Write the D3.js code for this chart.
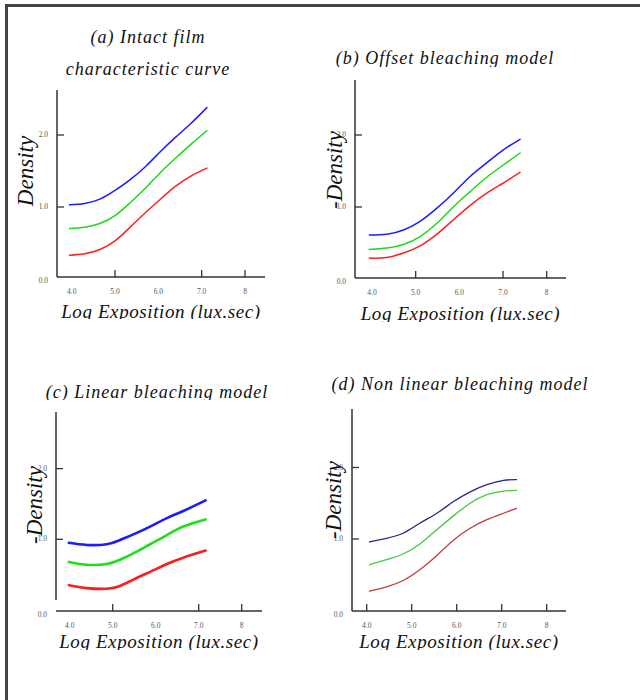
<!DOCTYPE html>
<html lang="en">
<head>
  <meta charset="UTF-8">
  <title>Film characteristic curves and bleaching models</title>
  <script src="https://d3js.org/d3.v7.min.js"></script>
  <style>
    body { margin: 0; background: #fff; }
    svg { display: block; }
    .serif { font-family: "Liberation Serif", "Times New Roman", Times, serif; font-style: italic; fill: #111; }
    .tick-label { font-family: "Liberation Serif", "Times New Roman", serif; font-size: 7.5px; fill: #555; }
    .axis-line { stroke: #333; stroke-width: 1.5px; }
  </style>
</head>
<body>
  <svg width="640" height="700"></svg>
  <script>
    // log exposure ticks and density ticks
    const xTicks = [4, 5, 6, 7, 8];
    const xTickLabels = ["4.0", "5.0", "6.0", "7.0", "8"];
    const yTicks = [0, 1, 2];
    const yTickLabels = ["0.0", "1.0", "2.0"];

    // (a) intact film
    const expA = [3.95, 4.3, 4.65, 5.0, 5.35, 5.7, 6.05, 6.4, 6.75, 7.12];
    const blueA = [1.03, 1.05, 1.11, 1.23, 1.38, 1.56, 1.77, 1.97, 2.16, 2.38];
    const greenA = [0.70, 0.72, 0.77, 0.88, 1.06, 1.26, 1.48, 1.68, 1.87, 2.06];
    const redA = [0.33, 0.35, 0.41, 0.53, 0.72, 0.92, 1.11, 1.29, 1.43, 1.54];

    // (b) offset bleaching
    const expB = [3.94, 4.34, 4.72, 5.10, 5.48, 5.86, 6.24, 6.62, 7.0, 7.39];
    const blueB = [0.61, 0.62, 0.68, 0.80, 0.98, 1.19, 1.42, 1.61, 1.79, 1.94];
    const greenB = [0.41, 0.43, 0.48, 0.59, 0.77, 1.00, 1.21, 1.41, 1.58, 1.75];
    const redB = [0.29, 0.30, 0.36, 0.46, 0.62, 0.82, 1.02, 1.19, 1.33, 1.48];

    // (c) linear bleaching
    const expC = [3.98, 4.40, 4.86, 5.17, 5.48, 5.87, 6.26, 6.64, 7.16];
    const blueC = [0.95, 0.92, 0.93, 0.99, 1.07, 1.18, 1.30, 1.40, 1.55];
    const greenC = [0.68, 0.64, 0.65, 0.71, 0.80, 0.93, 1.06, 1.18, 1.28];
    const redC = [0.35, 0.31, 0.30, 0.34, 0.43, 0.54, 0.65, 0.74, 0.84];

    // (d) non linear bleaching
    const expD = [4.06, 4.44, 4.81, 5.18, 5.56, 5.92, 6.30, 6.67, 7.04, 7.33];
    const blueD = [0.96, 1.01, 1.08, 1.22, 1.36, 1.52, 1.66, 1.76, 1.82, 1.83];
    const greenD = [0.64, 0.71, 0.79, 0.93, 1.13, 1.32, 1.50, 1.62, 1.67, 1.68];
    const redD = [0.27, 0.33, 0.42, 0.57, 0.77, 0.98, 1.15, 1.27, 1.36, 1.43];

    const panels = [
      {
        title: ["(a) Intact film", "characteristic curve"], titleX: 148, titleY: [43, 75], titleClip: null,
        yLabel: "Density", yLabelX: 33, yLabelY: 171,
        xr: [71.7, 245], yr: [279, 135], axisX: 57, axisTop: 90, axisBottom: 277, axisY: 277, axisRight: 265,
        marks: [5, 7, 8], xt: 318, xtClip: 319, lw: 1.5,
        exp: expA, series: [blueA, greenA, redA],
        colors: ["#1c1cff", "#19d919", "#ff2020"]
      },
      {
        title: ["(b) Offset bleaching model"], titleX: 445, titleY: [64], titleClip: 67,
        yLabel: "-Density", yLabelX: 342, yLabelY: 170,
        xr: [372, 546.7], yr: [279, 135], axisX: 355, axisTop: 80, axisBottom: 278, axisY: 278, axisRight: 566,
        marks: [5, 7, 8], xt: 320, xtClip: 322, lw: 1.5,
        exp: expB, series: [blueB, greenB, redB],
        colors: ["#1c1cff", "#19d919", "#ff2020"]
      },
      {
        title: ["(c) Linear bleaching model"], titleX: 157, titleY: [398], titleClip: 400,
        yLabel: "-Density", yLabelX: 42, yLabelY: 505,
        xr: [69.7, 241.7], yr: [610, 468.6], axisX: 56, axisTop: 412, axisBottom: 600, axisY: 611, axisRight: 262,
        marks: [5, 7, 8], xt: 648, xtClip: 650, lw: 2.6,
        exp: expC, series: [blueC, greenC, redC],
        colors: ["#1c1cff", "#19e019", "#ff1c1c"]
      },
      {
        title: ["(d) Non linear bleaching model"], titleX: 460, titleY: [390], titleClip: null,
        yLabel: "-Density", yLabelX: 341, yLabelY: 500,
        xr: [366.7, 546.7], yr: [610.5, 467.5], axisX: 352, axisTop: 409, axisBottom: 611, axisY: 611, axisRight: 566,
        marks: [4, 5, 6, 7, 8], xt: 648, xtClip: 650, lw: 1.3,
        exp: expD, series: [blueD, greenD, redD],
        colors: ["#26268f", "#44c844", "#c23c3c"]
      }
    ];

    const svg = d3.select("svg");

    // frame
    svg.append("line").attr("x1", 5).attr("y1", 5.5).attr("x2", 640).attr("y2", 5.5)
      .attr("stroke", "#444").attr("stroke-width", 3);
    svg.append("line").attr("x1", 6.5).attr("y1", 4).attr("x2", 6.5).attr("y2", 700)
      .attr("stroke", "#444").attr("stroke-width", 3);

    panels.forEach((p, i) => {
      const g = svg.append("g");
      const x = d3.scaleLinear().domain([4, 8]).range(p.xr);
      const y = d3.scaleLinear().domain([0, 2]).range(p.yr);

      // curves
      const line = d3.line().x(d => x(d[0])).y(d => y(d[1])).curve(d3.curveNatural);
      p.series.forEach((s, k) => {
        g.append("path")
          .datum(p.exp.map((e, j) => [e, s[j]]))
          .attr("d", line)
          .attr("fill", "none")
          .attr("stroke", p.colors[k])
          .attr("stroke-width", p.lw)
          .attr("stroke-linecap", "round");
      });

      // axis lines
      g.append("line").attr("class", "axis-line")
        .attr("x1", p.axisX).attr("x2", p.axisX).attr("y1", p.axisTop).attr("y2", p.axisBottom);
      g.append("line").attr("class", "axis-line")
        .attr("x1", p.axisX).attr("x2", p.axisRight).attr("y1", p.axisY).attr("y2", p.axisY);

      // x tick marks (inward) and labels
      g.selectAll(".xmark").data(p.marks).join("line")
        .attr("x1", d => x(d)).attr("x2", d => x(d))
        .attr("y1", p.axisY).attr("y2", p.axisY - 7)
        .attr("stroke", "#333").attr("stroke-width", 1.3);
      g.selectAll(".xlab").data(xTicks).join("text")
        .attr("class", "tick-label")
        .attr("x", d => x(d)).attr("y", p.axisY + 17)
        .attr("text-anchor", "middle")
        .text((d, j) => xTickLabels[j]);

      // y tick marks (inward) and labels
      g.selectAll(".ymark").data(yTicks.slice(1)).join("line")
        .attr("x1", p.axisX).attr("x2", p.axisX + 7)
        .attr("y1", d => y(d)).attr("y2", d => y(d))
        .attr("stroke", "#333").attr("stroke-width", 1.3);
      g.selectAll(".ylab").data(yTicks).join("text")
        .attr("class", "tick-label")
        .attr("x", p.axisX - 9).attr("y", d => d === 0 ? p.axisY + 6 : y(d) + 2)
        .attr("text-anchor", "end")
        .text((d, j) => yTickLabels[j]);

      // titles
      p.title.forEach((t, j) => {
        g.append("text").attr("class", "serif")
          .attr("x", p.titleX).attr("y", p.titleY[j])
          .attr("text-anchor", "middle")
          .attr("font-size", 18).attr("letter-spacing", 1)
          .text(t);
      });
      if (p.titleClip) {
        g.append("rect").attr("x", p.titleX - 130).attr("y", p.titleClip)
          .attr("width", 260).attr("height", 6).attr("fill", "#fff");
      }

      // axis title
      const cx = (p.axisX + p.axisRight) / 2;
      g.append("text").attr("class", "serif")
        .attr("x", cx).attr("y", p.xt)
        .attr("text-anchor", "middle")
        .attr("font-size", 19).attr("letter-spacing", 0.6)
        .text("Log Exposition (lux.sec)");
      g.append("rect").attr("x", cx - 115).attr("y", p.xtClip)
        .attr("width", 230).attr("height", 6).attr("fill", "#fff");

      // density label
      g.append("text").attr("class", "serif")
        .attr("transform", `translate(${p.yLabelX},${p.yLabelY}) rotate(-90)`)
        .attr("text-anchor", "middle")
        .attr("font-size", 23)
        .text(p.yLabel);
    });
  </script>
</body>
</html>
